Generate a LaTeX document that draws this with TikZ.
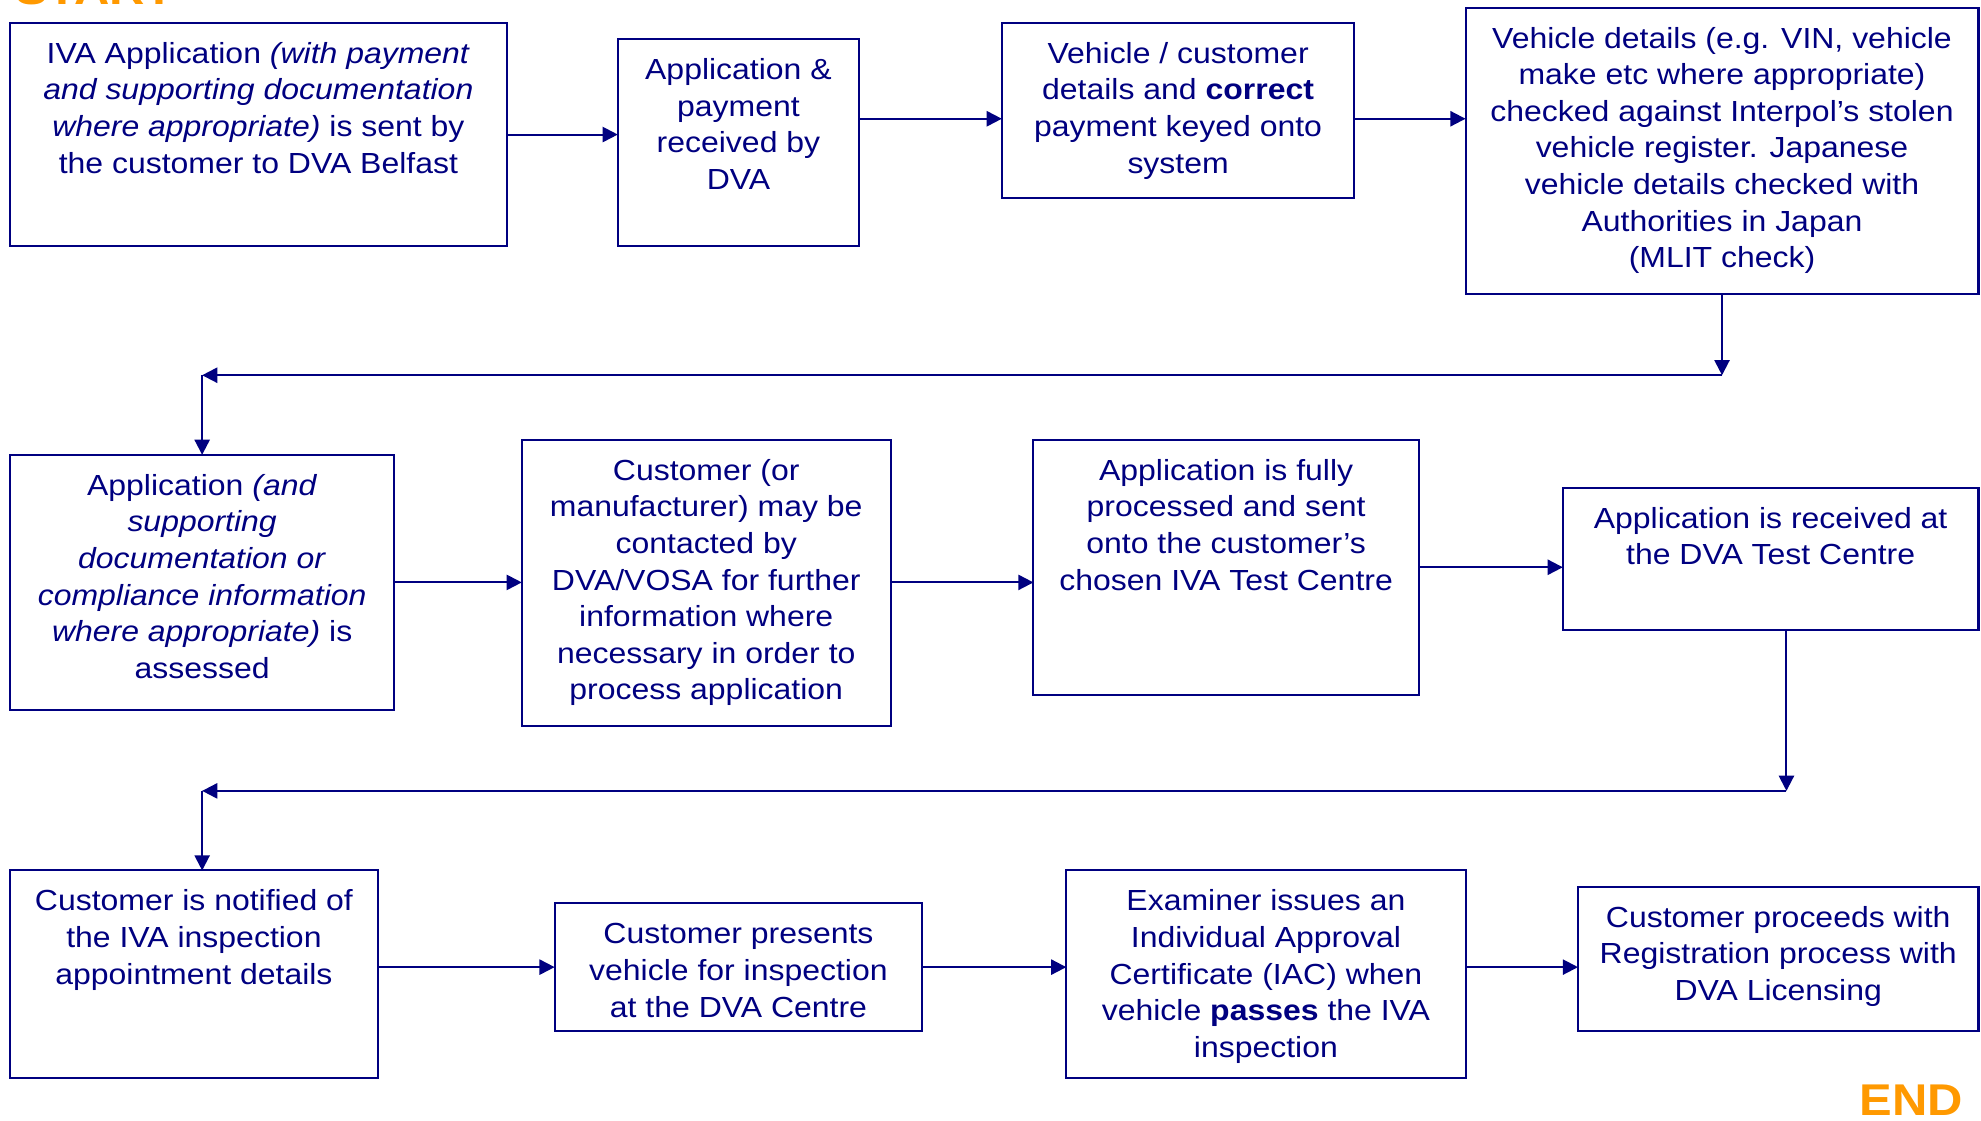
\documentclass[tikz,border=0pt]{standalone}
\usepackage{fontspec}
\setmainfont{Liberation Sans}[FakeStretch=1.1]
\usetikzlibrary{arrows.meta}
\definecolor{navy}{RGB}{0,0,128}
\definecolor{dvaorange}{RGB}{255,153,0}
\tikzstyle{every node}=[inner sep=0pt,outer sep=0pt,text=navy]
\tikzstyle{stepbox}=[draw=navy,line width=0.8pt,anchor=north west,font=\fontsize{11.5}{14.5}\selectfont]
\tikzstyle{flow}=[draw=navy,line width=0.8pt,-{Triangle[length=6pt,width=6pt]}]
\tikzstyle{ends}=[text=dvaorange,anchor=base west,font=\fontsize{17.6}{20}\selectfont\bfseries]
\newcommand\stepbody[3]{\parbox[t][#2][t]{#1}{\centering\rule{0pt}{16pt}#3}}

\begin{document}
\begin{tikzpicture}[x=1pt,y=-1pt]
			\useasboundingbox (0,0) rectangle (784,443.5);
			\node[ends] (start) at (6,1.6) {START};
			\node[ends] (end) at (736,441.3) {END};
			\node[stepbox] (a1) at (4,9) {\stepbody{196.5pt}{88.5pt}{IVA Application \textit{(with payment}\\
						\textit{and supporting documentation}\\
						\textit{where appropriate)} is sent by\\
						the customer to DVA Belfast}};
			\node[stepbox] (a2) at (244.5,15.5) {\stepbody{95.5pt}{82pt}{Application \&\\
						payment\\
						received by\\
						DVA}};
			\node[stepbox] (a3) at (396.5,9) {\stepbody{139.5pt}{69.5pt}{Vehicle / customer\\
						details and \textbf{correct}\\
						payment keyed onto\\
						system}};
			\node[stepbox] (a4) at (580,3) {\stepbody{203pt}{113.5pt}{Vehicle details (e.g. VIN, vehicle\\
						make etc where appropriate)\\
						checked against Interpol’s stolen\\
						vehicle register. Japanese\\
						vehicle details checked with\\
						Authorities in Japan\\
						(MLIT check)}};
			\node[stepbox] (b1) at (4,180) {\stepbody{152pt}{101pt}{Application \textit{(and}\\
						\textit{supporting}\\
						\textit{documentation or}\\
						\textit{compliance information}\\
						\textit{where appropriate)} is\\
						assessed}};
			\node[stepbox] (b2) at (206.5,174) {\stepbody{146pt}{113.5pt}{Customer (or\\
						manufacturer) may be\\
						contacted by\\
						DVA/VOSA for further\\
						information where\\
						necessary in order to\\
						process application}};
			\node[stepbox] (b3) at (409,174) {\stepbody{152.5pt}{101pt}{Application is fully\\
						processed and sent\\
						onto the customer’s\\
						chosen IVA Test Centre}};
			\node[stepbox] (b4) at (618.5,193) {\stepbody{164.5pt}{56.5pt}{Application is received at\\
						the DVA Test Centre}};
			\node[stepbox] (c1) at (4,344.5) {\stepbody{145.5pt}{82pt}{Customer is notified of\\
						the IVA inspection\\
						appointment details}};
			\node[stepbox] (c2) at (219.5,357.5) {\stepbody{145.5pt}{50.5pt}{Customer presents\\
						vehicle for inspection\\
						at the DVA Centre}};
			\node[stepbox] (c3) at (422,344.5) {\stepbody{158pt}{82pt}{Examiner issues an\\
						Individual Approval\\
						Certificate (IAC) when\\
						vehicle \textbf{passes} the IVA\\
						inspection}};
			\node[stepbox] (c4) at (624.5,351) {\stepbody{158.5pt}{57pt}{Customer proceeds with\\
						Registration process with\\
						DVA Licensing}};
			\coordinate (r1) at (681.5,148.5);
			\coordinate (l1) at (80,148.5);
			\coordinate (r2) at (707,313);
			\coordinate (l2) at (80,313);
			\draw[flow] (a1.east) -- (a1.east -| a2.west);
			\draw[flow] ([yshift=-3.25pt]a3.west -| a2.east) -- ([yshift=-3.25pt]a3.west);
			\draw[flow] ([yshift=-3.25pt]a3.east) -- ([yshift=-3.25pt]a3.east -| a4.west);
			\draw[flow] (a4.south) -- (r1);
			\draw[flow] (r1) -- (l1);
			\draw[flow] (l1) -- (l1 |- b1.north);
			\draw[flow] (b1.east) -- (b1.east -| b2.west);
			\draw[flow] (b1.east -| b2.east) -- (b1.east -| b3.west);
			\draw[flow] (b3.east) -- (b3.east -| b4.west);
			\draw[flow] (r2 |- b4.south) -- (r2);
			\draw[flow] (r2) -- (l2);
			\draw[flow] (l2) -- (l2 |- c1.north);
			\draw[flow] (c1.east |- c2.west) -- (c2.west);
			\draw[flow] (c2.east) -- (c2.east -| c3.west);
			\draw[flow] (c2.east -| c3.east) -- (c2.east -| c4.west);
		\end{tikzpicture}
\end{document}
